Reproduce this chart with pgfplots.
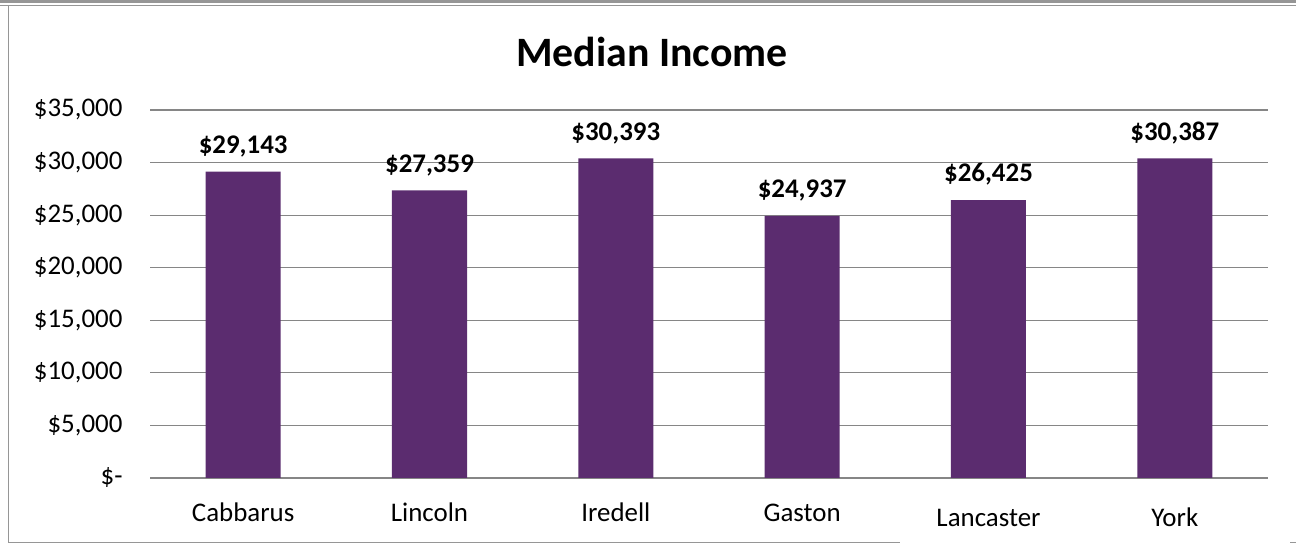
\documentclass[border=0pt]{standalone}
\usepackage{pgfplots}
\pgfplotsset{compat=1.18}
\usepackage{fontspec}
\setmainfont{Carlito}
\definecolor{barc}{RGB}{91,44,111}
\definecolor{gridc}{RGB}{134,134,134}
\definecolor{framec}{RGB}{150,150,150}
\begin{document}
\begin{tikzpicture}[x=1bp,y=1bp]
\path[use as bounding box] (0,0) rectangle (1296,544);
% frame
\fill[framec] (0,541) rectangle (1296,544);
\draw[framec, line width=1.2bp] (0,538.5) -- (1296,538.5);
\draw[framec, line width=1.2bp] (8.5,538.5) -- (8.5,1.5) -- (900,1.5);
\draw[framec, line width=1.2bp] (1290,1.5) -- (1296,1.5);
\begin{axis}[
  at={(150bp,66bp)}, anchor=south west,
  scale only axis, width=1118bp, height=368bp,
  xmin=-0.5, xmax=5.5, ymin=0, ymax=35000,
  ybar, bar width=75bp,
  axis line style={draw=none},
  major tick length=0pt,
  scaled y ticks=false,
  ymajorgrids, grid style={gridc, line width=1.1bp},
  xtick={0,1,2,3,4,5},
  xticklabels={Cabbarus, Lincoln, Iredell, Gaston, \raisebox{-5bp}{Lancaster}, \raisebox{-5bp}{York}},
  ytick={0,5000,10000,15000,20000,25000,30000,35000},
  yticklabels={{\$-\hspace{11bp}},{\$5,000},{\$10,000},{\$15,000},{\$20,000},{\$25,000},{\$30,000},{\$35,000}},
  tick label style={font=\fontsize{27}{31}\selectfont, black},
  yticklabel style={xshift=-24bp},
  xticklabel style={yshift=-33bp, text height=0.75em, text depth=0.25em},
  /pgf/number format/.cd, 1000 sep={,}, assume math mode=true,
  /pgfplots/.cd,
  nodes near coords={\$\pgfmathprintnumber{\pgfplotspointmeta}},
  every node near coord/.append style={font=\bfseries\fontsize{27}{31}\selectfont, black, yshift=11bp},
  clip=false,
]
\addplot[fill=barc, draw=none] coordinates {(0,29143) (1,27359) (2,30393) (3,24937) (4,26425) (5,30387)};
\end{axis}
\node[anchor=base, font=\bfseries\fontsize{42}{48}\selectfont] at (652,477) {Median Income};
\end{tikzpicture}
\end{document}
